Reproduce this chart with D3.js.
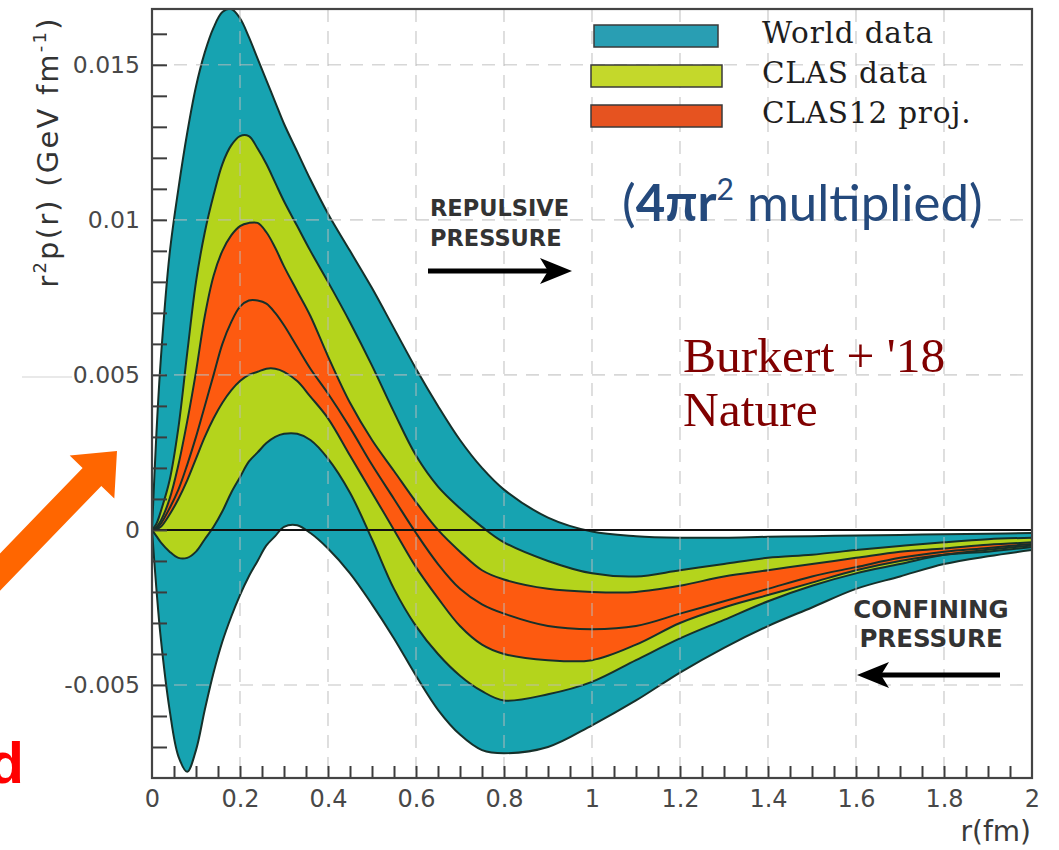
<!DOCTYPE html>
<html>
<head>
<meta charset="utf-8">
<script src="https://cdn.jsdelivr.net/npm/d3@7"></script>
<style>
body { margin: 0; background: #fff; }
svg { display: block; }
</style>
</head>
<body>
<script>
// r grid (fm) shared by every boundary curve
var rGrid = [0, 0.01, 0.02, 0.04, 0.06, 0.08, 0.1, 0.12, 0.14, 0.16, 0.18, 0.2, 0.22, 0.24, 0.26, 0.28, 0.3, 0.33, 0.36, 0.4,
             0.45, 0.5, 0.55, 0.6, 0.65, 0.7, 0.75, 0.8, 0.9, 1.0, 1.1, 1.2, 1.3, 1.4, 1.5, 1.6, 1.7, 1.8, 1.9, 2.0];

// r^2 p(r) boundaries, GeV fm^-1
var worldUpper = [0, 0.0031, 0.0055, 0.0089, 0.0110, 0.0128, 0.0143, 0.0154, 0.0162, 0.0167, 0.0168, 0.0165, 0.0159, 0.0152, 0.0145, 0.0138, 0.0131, 0.0122, 0.0113, 0.0102,
                  0.0090, 0.0078, 0.0065, 0.0052, 0.0040, 0.0029, 0.0020, 0.0013, 0.0004, -0.00005, -0.0002, -0.00025, -0.00025, -0.00022, -0.0002, -0.00018, -0.00016, -0.00014, -0.00012, -0.0001];
var worldLower = [0, -0.0019, -0.0035, -0.0058, -0.0073, -0.0078, -0.0071, -0.0058, -0.0046, -0.0036, -0.0028, -0.0021, -0.0015, -0.0010, -0.0005, -0.0002, 0.0001, 0.00015, -0.0001, -0.0006,
                  -0.0014, -0.0024, -0.0035, -0.0047, -0.0058, -0.0066, -0.0071, -0.0072, -0.0070, -0.0063, -0.0055, -0.0046, -0.0038, -0.0031, -0.0025, -0.0019, -0.0015, -0.0011, -0.00085, -0.00065];
var clasUpper = [0, 0.0002, 0.0006, 0.0016, 0.0033, 0.0057, 0.0080, 0.0096, 0.0108, 0.0118, 0.0124, 0.0127, 0.0127, 0.0123, 0.0118, 0.0112, 0.0106, 0.0098, 0.0090, 0.0080,
                 0.0067, 0.0053, 0.0038, 0.0024, 0.0014, 0.0007, 0.0001, -0.0004, -0.0010, -0.0014, -0.0015, -0.0013, -0.0011, -0.0009, -0.0008, -0.00065, -0.00052, -0.0004, -0.0003, -0.00025];
var clasLower = [0, -0.0002, -0.0004, -0.0007, -0.0009, -0.0009, -0.0007, -0.0003, 0.0001, 0.0006, 0.0012, 0.0017, 0.0022, 0.0025, 0.0028, 0.0030, 0.0031, 0.0031, 0.0029, 0.0023,
                 0.0012, -0.0003, -0.0019, -0.0031, -0.0040, -0.0047, -0.0052, -0.0055, -0.0053, -0.0049, -0.0042, -0.0035, -0.0029, -0.0023, -0.0018, -0.0014, -0.0011, -0.0008, -0.0007, -0.00055];
var projUpper = [0, 0.0001, 0.0003, 0.0010, 0.0021, 0.0035, 0.0051, 0.0069, 0.0082, 0.0090, 0.0095, 0.0098, 0.0099, 0.0099, 0.0096, 0.0091, 0.0085, 0.0077, 0.0069, 0.0056,
                 0.0041, 0.0029, 0.0019, 0.0009, 0.0000, -0.0007, -0.0013, -0.0016, -0.0019, -0.0020, -0.0020, -0.0018, -0.0015, -0.0013, -0.0011, -0.0009, -0.0007, -0.0006, -0.00048, -0.0004];
var central = [0, 0.00005, 0.0002, 0.0007, 0.0013, 0.0021, 0.0030, 0.0040, 0.0050, 0.0060, 0.0067, 0.0072, 0.0074, 0.0074, 0.0073, 0.0070, 0.0066, 0.0059, 0.0052, 0.0044,
               0.0033, 0.0021, 0.0010, -0.0001, -0.0011, -0.0019, -0.0024, -0.0027, -0.0031, -0.0032, -0.0031, -0.0027, -0.0023, -0.0019, -0.0015, -0.0012, -0.0009, -0.0007, -0.00058, -0.00045];
var projLower = [0, 0.00002, 0.0001, 0.0005, 0.0010, 0.0016, 0.0023, 0.0030, 0.0036, 0.0041, 0.0045, 0.0048, 0.0050, 0.0051, 0.0052, 0.0052, 0.0051, 0.0048, 0.0043, 0.0036,
                 0.0024, 0.0012, 0.0000, -0.0012, -0.0022, -0.0031, -0.0037, -0.0040, -0.0042, -0.0042, -0.0037, -0.0030, -0.0025, -0.0021, -0.0017, -0.0013, -0.0010, -0.0008, -0.00064, -0.0005];

var legendLabels = ["World data", "CLAS data", "CLAS12 proj."];
var xTicks = [0, 0.2, 0.4, 0.6, 0.8, 1, 1.2, 1.4, 1.6, 1.8, 2];
var xTickLabels = ["0", "0.2", "0.4", "0.6", "0.8", "1", "1.2", "1.4", "1.6", "1.8", "2"];
var yTicks = [-0.005, 0, 0.005, 0.01, 0.015];
var yTickLabels = ["-0.005", "0", "0.005", "0.01", "0.015"];

var colors = { world: "#17a3b1", clas: "#b4d41c", proj: "#fd5a10", line: "#16302a" };
var legendColors = ["#299eb3", "#c4d82b", "#e65320"];

var W = 1059, H = 850;
var plot = { left: 152, right: 1032, top: 9, bottom: 778 };

var svg = d3.select("body").append("svg")
    .attr("width", W)
    .attr("height", H);

var x = d3.scaleLinear().domain([0, 2]).range([plot.left, plot.right]);
var y = d3.scaleLinear().domain([-0.008, 0.0168]).range([plot.bottom, plot.top]);

svg.append("clipPath").attr("id", "clip")
  .append("rect")
    .attr("x", plot.left).attr("y", plot.top)
    .attr("width", plot.right - plot.left).attr("height", plot.bottom - plot.top);

// faint slide remnant at the left
svg.append("line")
    .attr("x1", 22).attr("x2", 72).attr("y1", 377).attr("y2", 377)
    .style("stroke", "#e2e2e2").style("stroke-width", 1.5);

var g = svg.append("g").attr("clip-path", "url(#clip)");

function band(upper, lower) {
  return rGrid.map(function(r, i) { return { r: r, hi: upper[i], lo: lower[i] }; });
}

var smooth = d3.curveCatmullRom.alpha(0.5);

var area = d3.area()
    .curve(smooth)
    .x(function(d) { return x(d.r); })
    .y0(function(d) { return y(d.lo); })
    .y1(function(d) { return y(d.hi); });

var bands = [
  { data: band(worldUpper, worldLower), fill: colors.world },
  { data: band(clasUpper, clasLower), fill: colors.clas },
  { data: band(projUpper, projLower), fill: colors.proj }
];

g.selectAll("path.band")
  .data(bands)
  .enter().append("path")
    .attr("class", "band")
    .attr("d", function(d) { return area(d.data); })
    .style("fill", function(d) { return d.fill; });

// dashed grid over the bands
var grid = svg.append("g")
    .style("stroke", "#bdbdbd")
    .style("stroke-opacity", 0.6)
    .style("stroke-width", 1.6)
    .style("stroke-dasharray", "13,9");

grid.selectAll("line.vgrid")
  .data(xTicks.slice(1, -1))
  .enter().append("line")
    .attr("x1", function(d) { return x(d); }).attr("x2", function(d) { return x(d); })
    .attr("y1", plot.top).attr("y2", plot.bottom);

grid.selectAll("line.hgrid")
  .data(yTicks.filter(function(d) { return d !== 0; }))
  .enter().append("line")
    .attr("x1", plot.left).attr("x2", plot.right)
    .attr("y1", function(d) { return y(d); }).attr("y2", function(d) { return y(d); });

// band boundaries
var line = d3.line()
    .curve(smooth)
    .x(function(d, i) { return x(rGrid[i]); })
    .y(function(d) { return y(d); });

g.selectAll("path.edge")
  .data([worldUpper, worldLower, clasUpper, clasLower, projUpper, central, projLower])
  .enter().append("path")
    .attr("class", "edge")
    .attr("d", line)
    .style("fill", "none")
    .style("stroke", colors.line)
    .style("stroke-width", 2);

// zero line
svg.append("line")
    .attr("x1", plot.left).attr("x2", plot.right)
    .attr("y1", y(0)).attr("y2", y(0))
    .style("stroke", "#111").style("stroke-width", 2);

// minor ticks
var yAxisTicks = d3.axisLeft(y)
    .tickValues(d3.range(-7, 17).map(function(k) { return k / 1000; }))
    .tickSize(-15)
    .tickFormat("");
svg.append("g")
    .attr("transform", "translate(" + plot.left + ",0)")
    .call(yAxisTicks)
    .call(function(s) { s.select(".domain").remove(); })
    .selectAll("line").style("stroke", "#3c3c3c").style("stroke-width", 2);

var xAxisTicks = d3.axisBottom(x)
    .tickValues(d3.range(1, 40).map(function(k) { return k * 0.05; }))
    .tickSize(-12)
    .tickFormat("");
svg.append("g")
    .attr("transform", "translate(0," + plot.bottom + ")")
    .call(xAxisTicks)
    .call(function(s) { s.select(".domain").remove(); })
    .selectAll("line").style("stroke", "#3c3c3c").style("stroke-width", 2);

// tick labels
var yAxis = d3.axisLeft(y)
    .tickValues(yTicks)
    .tickSize(0)
    .tickPadding(12)
    .tickFormat(function(d, i) { return yTickLabels[i]; });
var yg = svg.append("g")
    .attr("transform", "translate(" + plot.left + ",0)")
    .call(yAxis);
yg.select(".domain").remove();
yg.selectAll("text")
    .style("font-family", "DejaVu Sans").style("font-size", "23.5px").style("fill", "#484848");

var xAxis = d3.axisBottom(x)
    .tickValues(xTicks)
    .tickSize(0)
    .tickPadding(12)
    .tickFormat(function(d, i) { return xTickLabels[i]; });
var xg = svg.append("g")
    .attr("transform", "translate(0," + plot.bottom + ")")
    .call(xAxis);
xg.select(".domain").remove();
xg.selectAll("text")
    .style("font-family", "DejaVu Sans").style("font-size", "24px").style("fill", "#484848");

// frame
svg.append("rect")
    .attr("x", plot.left).attr("y", plot.top)
    .attr("width", plot.right - plot.left).attr("height", plot.bottom - plot.top)
    .style("fill", "none").style("stroke", "#444").style("stroke-width", 2.2);

// axis titles
svg.append("text")
    .attr("x", 1031).attr("y", 841)
    .attr("text-anchor", "end")
    .style("font-family", "DejaVu Sans").style("font-size", "28px").style("fill", "#3a3a3a")
    .text("r(fm)");

var yTitle = svg.append("text")
    .attr("transform", "translate(58,152) rotate(-90)")
    .attr("text-anchor", "middle")
    .style("font-family", "DejaVu Sans").style("font-size", "29px").style("fill", "#333")
    .style("letter-spacing", "2.2px");
yTitle.append("tspan").text("r");
yTitle.append("tspan").attr("dy", -12).style("font-size", "18px").text("2");
yTitle.append("tspan").attr("dy", 12).text("p(r) (GeV fm");
yTitle.append("tspan").attr("dy", -12).style("font-size", "18px").text("-1");
yTitle.append("tspan").attr("dy", 12).text(")");

// legend
var legend = svg.append("g");
var legendRows = legend.selectAll("g.row")
  .data(legendLabels)
  .enter().append("g")
    .attr("class", "row")
    .attr("transform", function(d, i) { return "translate(0," + (i * 40) + ")"; });
legendRows.append("rect")
    .attr("x", function(d, i) { return i === 0 ? 594 : 591; })
    .attr("y", 25)
    .attr("width", function(d, i) { return i === 0 ? 124 : 131; })
    .attr("height", 22)
    .style("fill", function(d, i) { return legendColors[i]; })
    .style("stroke", "#3a3a3a").style("stroke-width", 1.5);
legendRows.append("text")
    .attr("x", 762).attr("y", 43)
    .style("font-family", "DejaVu Serif").style("font-size", "29.5px").style("fill", "#1e1e1e")
    .style("letter-spacing", "0.8px")
    .text(function(d) { return d; });

// annotations
var blue = svg.append("text")
    .attr("x", 622).attr("y", 221)
    .style("font-family", "Lato").style("font-size", "51px").style("fill", "#24497c");
blue.append("tspan").text("(");
blue.append("tspan").style("font-weight", "bold").text("4\u03c0r");
blue.append("tspan").attr("dy", -21).style("font-size", "30px").text("2");
blue.append("tspan").attr("dy", 21).text(" multiplied)");

svg.append("text")
    .attr("x", 683).attr("y", 372)
    .style("font-family", "Liberation Serif").style("font-size", "49.5px").style("fill", "#800000")
    .text("Burkert + '18");
svg.append("text")
    .attr("x", 683).attr("y", 426)
    .style("font-family", "Liberation Serif").style("font-size", "49.5px").style("fill", "#800000")
    .text("Nature");

var pressureFont = { family: "DejaVu Sans", fill: "#333" };
svg.append("text")
    .attr("x", 430).attr("y", 216)
    .style("font-family", pressureFont.family).style("font-weight", "bold").style("font-size", "22.5px").style("fill", pressureFont.fill)
    .text("REPULSIVE");
svg.append("text")
    .attr("x", 430).attr("y", 246)
    .style("font-family", pressureFont.family).style("font-weight", "bold").style("font-size", "22.5px").style("fill", pressureFont.fill)
    .text("PRESSURE");
svg.append("text")
    .attr("x", 931).attr("y", 618)
    .attr("text-anchor", "middle")
    .style("font-family", pressureFont.family).style("font-weight", "bold").style("font-size", "24.5px").style("fill", pressureFont.fill)
    .text("CONFINING");
svg.append("text")
    .attr("x", 931).attr("y", 647)
    .attr("text-anchor", "middle")
    .style("font-family", pressureFont.family).style("font-weight", "bold").style("font-size", "24.5px").style("fill", pressureFont.fill)
    .text("PRESSURE");

// black arrows
function blackArrow(x0, x1, yy) {
  var dir = x1 > x0 ? 1 : -1;
  svg.append("line")
      .attr("x1", x0).attr("x2", x1 - dir * 20).attr("y1", yy).attr("y2", yy)
      .style("stroke", "#000").style("stroke-width", 5);
  svg.append("path")
      .attr("d", "M" + x1 + "," + yy +
                 "L" + (x1 - dir * 32) + "," + (yy - 13) +
                 "L" + (x1 - dir * 24) + "," + yy +
                 "L" + (x1 - dir * 32) + "," + (yy + 13) + "Z")
      .style("fill", "#000");
}
blackArrow(428, 572, 271);
blackArrow(1000, 857, 675);

// orange pointer arrow
(function() {
  var tip = [117, 451], a = -46 * Math.PI / 180;
  var u = [Math.cos(a), Math.sin(a)], n = [-u[1], u[0]];
  var headLen = 36, headHalf = 31, shaftHalf = 13, tail = 220;
  var b = [tip[0] - headLen * u[0], tip[1] - headLen * u[1]];
  var t = [b[0] - tail * u[0], b[1] - tail * u[1]];
  function p(c, k) { return [c[0] + k * n[0], c[1] + k * n[1]]; }
  var pts = [tip, p(b, headHalf), p(b, shaftHalf), p(t, shaftHalf), p(t, -shaftHalf), p(b, -shaftHalf), p(b, -headHalf)];
  svg.append("path")
      .attr("d", "M" + pts.map(function(q) { return q[0].toFixed(1) + "," + q[1].toFixed(1); }).join("L") + "Z")
      .style("fill", "#ff6600");
})();

svg.append("text")
    .attr("x", 24).attr("y", 783)
    .attr("text-anchor", "end")
    .style("font-family", "Liberation Sans").style("font-weight", "bold").style("font-size", "58px").style("fill", "#ff0000")
    .text("d");
</script>
</body>
</html>
